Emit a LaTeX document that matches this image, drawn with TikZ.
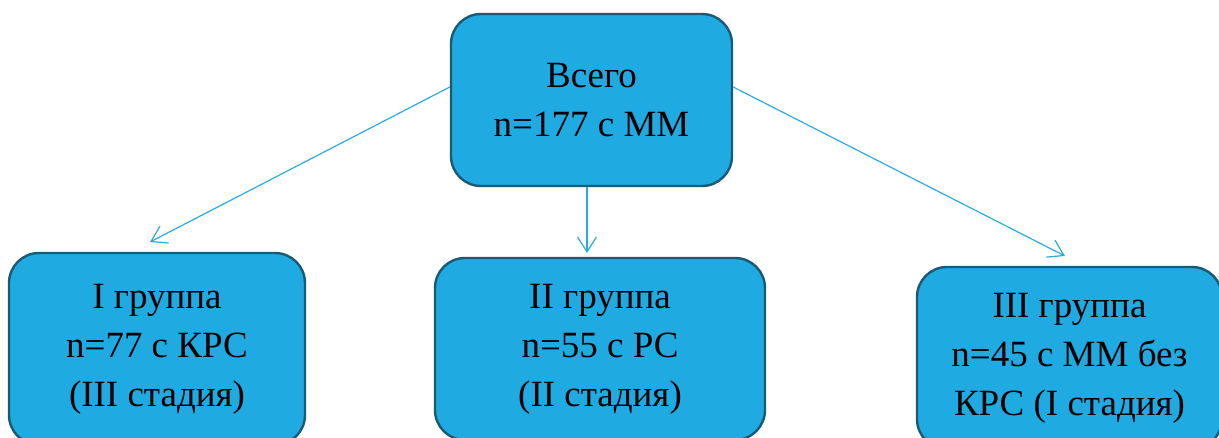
\documentclass[tikz,border=0pt]{standalone}
\usepackage{fontspec}
\setmainfont{Liberation Serif}
\usetikzlibrary{arrows.meta}
\definecolor{boxfill}{HTML}{1FABE2}
\definecolor{boxline}{HTML}{1A5A75}
\definecolor{arrowcol}{HTML}{2AAAE2}
\tikzset{
  groupbox/.style={draw=boxline, line width=2.4pt, fill=boxfill, rounded corners=30pt,
    align=center, inner sep=0pt, font=\fontsize{37}{49}\selectfont},
  link/.style={draw=arrowcol, line width=1.2pt, -{Straight Barb[length=15pt,width=19pt,line width=1.2pt]}}
}
\begin{document}
\begin{tikzpicture}[x=1pt,y=1pt]
\useasboundingbox (0,0) rectangle (1219,437);
\clip (0,0) rectangle (1219,437);
\node[groupbox, minimum width=281pt, minimum height=172pt] (top) at (591.5,337) {Всего\\n=177 с ММ};
\node[groupbox, minimum width=296pt, minimum height=192pt] (g1) at (157,88) {I группа\\n=77 с КРС\\(III стадия)};
\node[groupbox, minimum width=330pt, minimum height=182pt] (g2) at (600,88) {II группа\\n=55 с РС\\(II стадия)};
\node[groupbox, minimum width=305pt, minimum height=182pt] (g3) at (1069.5,79) {III группа\\n=45 с ММ без\\КРС (I стадия)};
\coordinate (s1) at ([yshift=13pt]top.west);
\coordinate (s3) at ([yshift=13pt]top.east);
\coordinate (s2) at ([xshift=-4.5pt]top.south);
\coordinate (e1) at (150,195);
\coordinate (e2) at (587,184);
\coordinate (e3) at (1065,181);
\draw[link] (s1) -- (e1);
\draw[link] (s2) -- (e2);
\draw[link] (s3) -- (e3);
\end{tikzpicture}
\end{document}
